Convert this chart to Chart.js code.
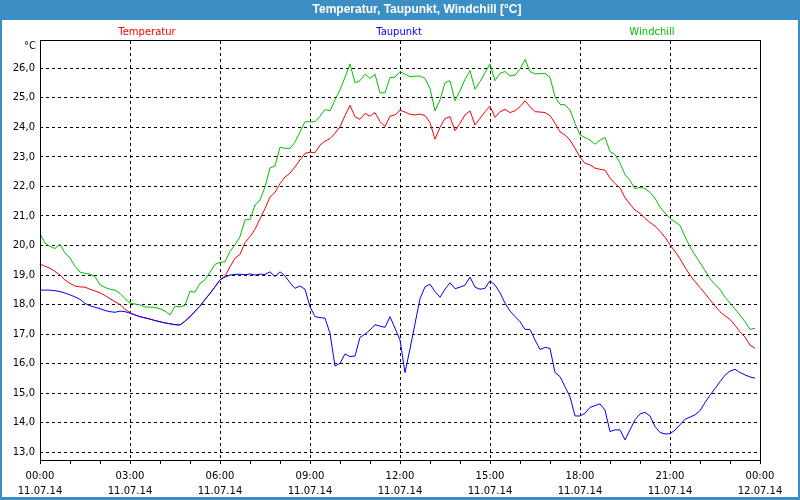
<!DOCTYPE html>
<html>
<head>
<meta charset="utf-8">
<script src="https://cdn.jsdelivr.net/npm/chart.js@4/dist/chart.umd.min.js"></script>
<style>
  body { margin: 0; background: #fff; }
  canvas { display: block; }
</style>
</head>
<body>
<canvas id="myChart" width="800" height="500"></canvas>
<script>
// 10-minute readings, 11.07.14 00:00 .. 23:50
const minutes = Array.from({ length: 144 }, (_, i) => i * 10);

const temperatur = [
  19.37, 19.30, 19.23, 19.12, 19.00, 18.83, 18.72, 18.63, 18.60, 18.59, 18.52, 18.46,
  18.40, 18.31, 18.20, 18.10, 18.00, 17.84, 17.73, 17.65, 17.59, 17.55, 17.51, 17.46,
  17.42, 17.38, 17.35, 17.32, 17.31, 17.44, 17.59, 17.77, 17.95, 18.17, 18.38, 18.60,
  18.84, 18.97, 19.28, 19.57, 19.70, 20.10, 20.30, 20.55, 20.90, 21.25, 21.64, 21.80,
  22.10, 22.32, 22.45, 22.66, 22.90, 23.12, 23.16, 23.14, 23.40, 23.53, 23.62, 23.80,
  24.02, 24.40, 24.75, 24.36, 24.27, 24.47, 24.38, 24.50, 24.20, 24.03, 24.38, 24.42,
  24.58, 24.52, 24.44, 24.42, 24.45, 24.40, 24.16, 23.60, 24.00, 24.30, 24.36, 23.89,
  24.14, 24.42, 24.56, 24.08, 24.31, 24.53, 24.72, 24.34, 24.53, 24.61, 24.50, 24.56,
  24.70, 24.90, 24.70, 24.53, 24.52, 24.50, 24.40, 24.14, 23.85, 23.74, 23.57, 23.29,
  22.99, 22.78, 22.73, 22.62, 22.58, 22.55, 22.28, 22.10, 21.95, 21.62, 21.40, 21.20,
  21.09, 20.92, 20.78, 20.66, 20.48, 20.28, 20.02, 19.80, 19.55, 19.26, 19.00, 18.78,
  18.58, 18.38, 18.16, 17.96, 17.76, 17.62, 17.50, 17.30, 17.08, 16.90, 16.63, 16.52
];

const taupunkt = [
  18.49, 18.49, 18.49, 18.47, 18.44, 18.39, 18.33, 18.26, 18.18, 18.04, 17.96, 17.91,
  17.86, 17.80, 17.76, 17.74, 17.78, 17.76, 17.71, 17.65, 17.59, 17.55, 17.51, 17.46,
  17.42, 17.38, 17.35, 17.32, 17.31, 17.44, 17.59, 17.77, 17.95, 18.17, 18.38, 18.60,
  18.84, 18.93, 19.00, 19.02, 19.03, 19.01, 19.04, 19.00, 19.03, 19.02, 19.11, 18.95,
  19.11, 18.97, 18.74, 18.55, 18.63, 18.52, 17.93, 17.59, 17.56, 17.54, 17.03, 15.92,
  16.01, 16.33, 16.24, 16.26, 16.89, 17.00, 17.14, 17.32, 17.27, 17.23, 17.59, 17.20,
  16.80, 15.70, 16.50, 17.35, 18.20, 18.60, 18.69, 18.44, 18.25, 18.52, 18.74, 18.54,
  18.59, 18.66, 18.93, 18.59, 18.52, 18.55, 18.81, 18.66, 18.40, 18.05, 17.78, 17.60,
  17.42, 17.16, 17.16, 16.80, 16.48, 16.55, 16.52, 15.70, 15.56, 15.22, 14.88, 14.23,
  14.23, 14.32, 14.52, 14.58, 14.64, 14.43, 13.70, 13.76, 13.76, 13.42, 13.76, 14.10,
  14.30, 14.35, 14.23, 13.87, 13.67, 13.62, 13.63, 13.75, 13.93, 14.12, 14.19, 14.27,
  14.41, 14.68, 14.93, 15.16, 15.39, 15.61, 15.75, 15.81, 15.70, 15.62, 15.55, 15.51
];

const windchill = [
  20.41, 20.08, 19.97, 19.90, 20.04, 19.75, 19.58, 19.30, 19.10, 19.06, 19.03, 18.95,
  18.67, 18.58, 18.52, 18.49, 18.38, 18.20, 18.05, 18.02, 17.99, 17.92, 17.91, 17.91,
  17.86, 17.78, 17.65, 17.95, 17.92, 17.98, 18.45, 18.42, 18.72, 18.84, 19.10, 19.36,
  19.43, 19.45, 19.80, 20.02, 20.30, 20.87, 20.88, 21.37, 21.54, 21.98, 22.63, 22.69,
  23.33, 23.29, 23.29, 23.50, 23.85, 24.19, 24.19, 24.19, 24.38, 24.60, 24.56, 24.93,
  25.27, 25.70, 26.15, 25.51, 25.58, 25.80, 25.66, 25.80, 25.17, 25.17, 25.69, 25.70,
  25.89, 25.80, 25.72, 25.73, 25.74, 25.65, 25.32, 24.56, 24.93, 25.51, 25.58, 24.90,
  25.24, 25.63, 25.92, 25.29, 25.55, 25.85, 26.15, 25.58, 25.83, 25.89, 25.74, 25.77,
  25.97, 26.30, 25.89, 25.81, 25.82, 25.83, 25.69, 25.04, 24.78, 24.76, 24.59, 24.14,
  23.74, 23.66, 23.57, 23.43, 23.57, 23.66, 23.18, 23.08, 22.80, 22.40, 22.20, 21.92,
  21.97, 21.93, 21.80, 21.60, 21.30, 21.10, 20.92, 20.80, 20.68, 20.30, 19.95, 19.68,
  19.42, 19.15, 18.88, 18.68, 18.52, 18.25, 18.05, 17.85, 17.65, 17.42, 17.16, 17.20
];

const yTicks = [13, 14, 15, 16, 17, 18, 19, 20, 21, 22, 23, 24, 25, 26];
const timeLabels = ["00:00", "03:00", "06:00", "09:00", "12:00", "15:00", "18:00", "21:00", "00:00"];
const dateLabels = ["11.07.14", "11.07.14", "11.07.14", "11.07.14", "11.07.14", "11.07.14", "11.07.14", "11.07.14", "12.07.14"];

const seriesNames = ["Temperatur", "Taupunkt", "Windchill"];
const seriesColors = ["#ff0000", "#0000ff", "#00c000"];

const toPoints = arr => arr.map((v, i) => ({ x: minutes[i], y: v }));

// frame, title bar, legend texts
const decor = {
  id: "decor",
  beforeDraw(chart) {
    const ctx = chart.ctx;
    ctx.save();
    ctx.fillStyle = "#ffffff";
    ctx.fillRect(0, 0, 800, 500);
    ctx.fillStyle = "#3c8fc4";
    ctx.fillRect(0, 0, 800, 20);
    ctx.fillRect(0, 0, 2, 500);
    ctx.fillRect(798, 0, 2, 500);
    ctx.fillRect(0, 497, 800, 3);
    ctx.fillStyle = "#ffffff";
    ctx.font = "bold 12px 'Liberation Sans'";
    ctx.textAlign = "center";
    ctx.textBaseline = "middle";
    ctx.fillText("Temperatur, Taupunkt, Windchill [°C]", 417, 10);
    ctx.restore();
  },
  afterDraw(chart) {
    const ctx = chart.ctx;
    const a = chart.chartArea;
    ctx.save();
    ctx.strokeStyle = "#000";
    ctx.lineWidth = 1;
    ctx.strokeRect(a.left + 0.5, a.top - 0.5, a.right - a.left, a.bottom - a.top);
    ctx.font = "10px 'DejaVu Sans'";
    ctx.textBaseline = "middle";
    ctx.fillStyle = "#000";
    ctx.textAlign = "right";
    ctx.fillText("°C", 36, 46);
    ctx.textAlign = "center";
    const xs = [147, 399, 652];
    seriesNames.forEach((n, i) => {
      ctx.fillStyle = seriesColors[i];
      ctx.fillText(n, xs[i], 32);
    });
    ctx.restore();
  }
};

const ctx = document.getElementById("myChart").getContext("2d");
Chart.defaults.font.family = "'DejaVu Sans'";
Chart.defaults.font.size = 10;
Chart.defaults.color = "#000";

const myChart = new Chart(ctx, {
  type: "line",
  data: {
    datasets: [
      { label: seriesNames[1], data: toPoints(taupunkt), borderColor: seriesColors[1], order: 0 },
      { label: seriesNames[0], data: toPoints(temperatur), borderColor: seriesColors[0], order: 1 },
      { label: seriesNames[2], data: toPoints(windchill), borderColor: seriesColors[2], order: 2 }
    ]
  },
  options: {
    responsive: false,
    animation: false,
    events: [],
    layout: { padding: { top: 41, right: 40, left: 0, bottom: 0 } },
    elements: {
      line: { borderWidth: 1, tension: 0 },
      point: { radius: 0 }
    },
    plugins: {
      legend: { display: false },
      title: { display: false },
      tooltip: { enabled: false }
    },
    scales: {
      x: {
        type: "linear",
        min: 0,
        max: 1440,
        afterFit: s => { s.height = 39; },
        ticks: {
          stepSize: 60,
          autoSkip: false,
          maxRotation: 0,
          padding: 5,
          font: { lineHeight: 1.5 },
          callback: v => (v % 180 === 0 ? [timeLabels[v / 180], dateLabels[v / 180]] : "")
        },
        grid: {
          color: c => (c.tick && c.tick.value % 180 === 0 ? "#000" : "rgba(0,0,0,0)"),
          tickColor: "#000",
          tickLength: 3
        },
        border: { display: false, dash: [3, 3] }
      },
      y: {
        min: 12.705,
        max: 26.924,
        afterFit: s => { s.width = 40; },
        afterBuildTicks: s => { s.ticks = yTicks.map(v => ({ value: v })); },
        ticks: {
          padding: 5,
          callback: v => v.toFixed(1).replace(".", ",")
        },
        grid: { color: "#000", drawTicks: false },
        border: { display: false, dash: [3, 3] }
      }
    }
  },
  plugins: [decor]
});
</script>
</body>
</html>
